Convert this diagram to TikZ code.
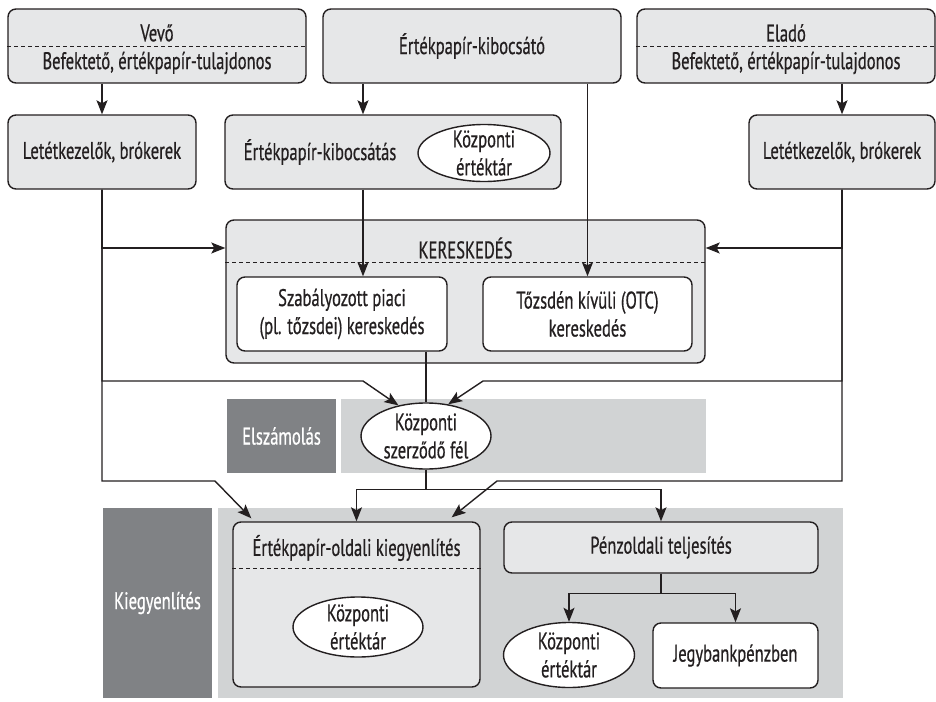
\documentclass[tikz,border=0pt]{standalone}
\usepackage{fontspec}
\setmainfont{PT Sans}[FakeStretch=0.69,FakeBold=0.6]
\usetikzlibrary{arrows.meta,positioning,calc,shapes.geometric}
\definecolor{LineGray}{RGB}{35,31,32}
\definecolor{BoxGray}{RGB}{230,231,232}
\definecolor{BandGray}{RGB}{209,211,212}
\definecolor{DarkGray}{RGB}{128,130,133}

\begin{document}
\begin{tikzpicture}[
    x=1pt, y=-1pt,
    font=\fontsize{24}{28}\selectfont,
    text=LineGray,
    box/.style={
      rectangle, rounded corners=8pt, draw=LineGray, line width=1.4pt,
      fill=BoxGray, inner sep=0pt, align=center
    },
    whitebox/.style={box, fill=white},
    oval/.style={ellipse, draw=LineGray, line width=1.4pt, fill=white, inner sep=0pt},
    band/.style={rectangle, fill=BandGray, inner sep=0pt},
    darkband/.style={rectangle, fill=DarkGray, text=white, inner sep=0pt, align=center},
    split/.style={dash pattern=on 4pt off 3pt, line width=0.9pt, draw=LineGray},
    arrow/.style={-{Stealth[length=14pt,width=11pt,inset=3pt]}, line width=1.4pt, draw=LineGray},
    line/.style={line width=1.4pt, draw=LineGray}
  ]
    \useasboundingbox (0,0) rectangle (936,701);

    % bands
    \node[darkband, minimum width=109pt, minimum height=74pt] (elsz) at (281.5,436) {Elszámolás};
    \node[band, minimum width=365pt, minimum height=74pt] (elszband) at (523.5,436) {};
    \node[darkband, minimum width=109pt, minimum height=190pt] (kieg) at (157.5,603) {Kiegyenlítés};
    \node[band, minimum width=625pt, minimum height=190pt] (kiegband) at (530.5,603) {};

    % top row
    \node[box, minimum width=298pt, minimum height=74pt] (vevo) at (157,46) {};
    \node (vevotop) at (157,33) {Vevő};
    \node (vevobot) at (157,63) {Befektető, értékpapír-tulajdonos};
    \node[box, minimum width=298pt, minimum height=74pt] (kibocsato) at (472,46) {Értékpapír-kibocsátó};
    \node[box, minimum width=298pt, minimum height=74pt] (elado) at (786,46) {};
    \node (eladotop) at (786,33) {Eladó};
    \node (eladobot) at (786,63) {Befektető, értékpapír-tulajdonos};
    \draw[split] (vevo.west) -- (vevo.east);
    \draw[split] (elado.west) -- (elado.east);

    \node[box, minimum width=188pt, minimum height=74pt] (letetL) at (102,152) {Letétkezelők, brókerek};
    \node[box, minimum width=336pt, minimum height=74pt] (kibocsatas) at (393,152) {};
    \node (kibtext) at (320,152) {Értékpapír-kibocsátás};
    \node[oval, minimum width=132pt, minimum height=57pt] (kt1) at (484,153) {};
    \node[align=center] (kt1txt) at (kt1) {Központi\\értéktár};
    \node[box, minimum width=186pt, minimum height=74pt] (letetR) at (842,152) {Letétkezelők, brókerek};

    % kereskedés
    \node[box, minimum width=479pt, minimum height=143pt] (keresk) at (465.5,291.5) {};
    \node (kertitle) at (465.5,248) {KERESKEDÉS};
    \draw[split] ([yshift=-43pt]keresk.north west) -- ([yshift=-43pt]keresk.north east);
    \node[whitebox, minimum width=210pt, minimum height=74pt] (szab) at (342,314) {Szabályozott piaci\\(pl. tőzsdei) kereskedés};
    \node[whitebox, minimum width=209pt, minimum height=74pt] (otc) at (587.5,314) {Tőzsdén kívüli (OTC)\\kereskedés};

    % elszámolás, kiegyenlítés
    \node[oval, minimum width=130pt, minimum height=66pt] (ccp) at (426,436) {};
    \node[align=center] (ccptxt) at (ccp) {Központi\\szerződő fél};
    \node[box, minimum width=247pt, minimum height=165pt] (evo) at (356.5,604.5) {};
    \node (evotitle) at (356.5,548) {Értékpapír-oldali kiegyenlítés};
    \draw[split] ([yshift=-47pt]evo.north west) -- ([yshift=-47pt]evo.north east);
    \node[oval, minimum width=130pt, minimum height=60pt] (kt2) at (358,627) {};
    \node[align=center] (kt2txt) at (kt2) {Központi\\értéktár};
    \node[box, minimum width=314pt, minimum height=51pt] (penz) at (661,547.5) {Pénzoldali teljesítés};
    \node[oval, minimum width=131pt, minimum height=65pt] (kt3) at (569,655) {};
    \node[align=center] (kt3txt) at (kt3) {Központi\\értéktár};
    \node[whitebox, minimum width=165pt, minimum height=65pt] (jegy) at (735.5,655.5) {Jegybankpénzben};

    \coordinate (colA) at (363,0);
    \coordinate (bendA) at (363,381);
    \coordinate (bendB) at (483,381);
    \coordinate (bendC) at (215,481);
    \coordinate (bendD) at (497,481);

    \draw[arrow] (letetL.north |- vevo.south) -- (letetL.north);
    \draw[arrow] (kibocsato.south -| colA) -- (kibocsatas.north -| colA);
    \draw[arrow] (letetR.north |- elado.south) -- (letetR.north);
    \draw[arrow] (kibocsatas.south -| colA) -- (szab.north -| colA);
    \draw[arrow] (kibocsato.south -| otc.north) -- (otc.north);
    \draw[arrow] (letetL.south) |- (keresk.west |- kertitle);
    \draw[arrow] (letetR.south) |- (keresk.east |- kertitle);
    \draw[arrow] (letetL.south) |- (bendA) -- (ccp.132);
    \draw[arrow] (letetR.south) |- (bendB) -- (ccp.55);
    \draw[arrow] (letetL.south) |- (bendC) -- ([shift={(19,-3)}]evo.north west);
    \draw[arrow] (letetR.south) |- (bendD) -- ([shift={(-29,-4)}]evo.north east);
    \draw[line] (szab.south -| ccp.north) -- (ccp.north);
    \draw[arrow] (ccp.south) -- ++(0,20) -| (evo.north);
    \draw[arrow] (ccp.south) -- ++(0,20) -| (penz.north);
    \draw[arrow] (penz.south) -- ++(0,20) -| (kt3.north);
    \draw[arrow] (penz.south) -- ++(0,20) -| (jegy.north);
  \end{tikzpicture}
\end{document}
